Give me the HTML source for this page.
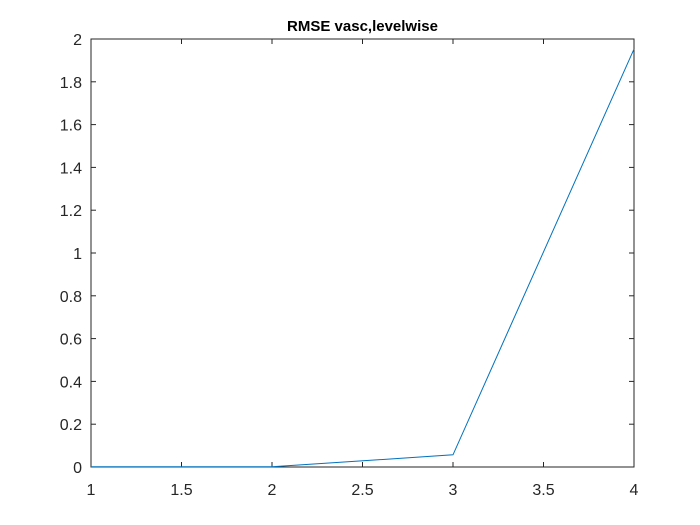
<!DOCTYPE html>
<html><head><meta charset="utf-8"><style>
body{margin:0;background:#fff}
svg{display:block;font-family:"Liberation Sans",Arial,sans-serif}
</style></head><body>
<svg id="c" width="700" height="525">
<rect x="0" y="0" width="700" height="525" fill="#fff"/>
</svg>
<script>
const xValues=[1,2,3,4];
const yValues=[0.001,0.001,0.057,1.953];
const xTicks=[1,1.5,2,2.5,3,3.5,4];
const yTicks=[0,0.2,0.4,0.6,0.8,1,1.2,1.4,1.6,1.8,2];
const L=91,R=634,T=39,B=467;
const xs=v=>L+(v-1)/3*(R-L);
const ys=v=>B-v/2*(B-T);
const svg=document.getElementById('c');
const NS='http://www.w3.org/2000/svg';
function mk(t,a,p){const e=document.createElementNS(NS,t);for(const k in a)e.setAttribute(k,a[k]);(p||svg).appendChild(e);return e;}
const ax=mk('g',{});


xTicks.forEach(v=>{const x=xs(v);
 mk('line',{x1:x,x2:x,y1:B,y2:B-5,stroke:'#262626'},ax);
 mk('line',{x1:x,x2:x,y1:T,y2:T+5,stroke:'#262626'},ax);
 const t=mk('text',{x:x,y:B+28,'text-anchor':'middle','font-size':16,fill:'#262626'},ax);
 
 
 t.textContent=String(v);});
yTicks.forEach(v=>{const y=ys(v);
 mk('line',{x1:L,x2:L+5,y1:y,y2:y,stroke:'#262626'},ax);
 mk('line',{x1:R,x2:R-5,y1:y,y2:y,stroke:'#262626'},ax);
 const t=mk('text',{x:L-9,y:y+6,'text-anchor':'end','font-size':16,fill:'#262626'},ax);
 
 
 t.textContent=String(v);});
const box=mk('rect',{x:L,y:T,width:R-L,height:B-T,fill:'none',stroke:'#262626','stroke-width':1},ax);


const line=mk('polyline',{points:xValues.map((v,i)=>xs(v)+','+ys(yValues[i])).join(' '),fill:'none',stroke:'#0072bd','stroke-width':1});


const ti=mk('text',{x:(L+R)/2,y:31,'text-anchor':'middle','font-size':15,'font-weight':'bold',fill:'#000'});


ti.textContent='RMSE vasc,levelwise';
</script>
</body></html>
